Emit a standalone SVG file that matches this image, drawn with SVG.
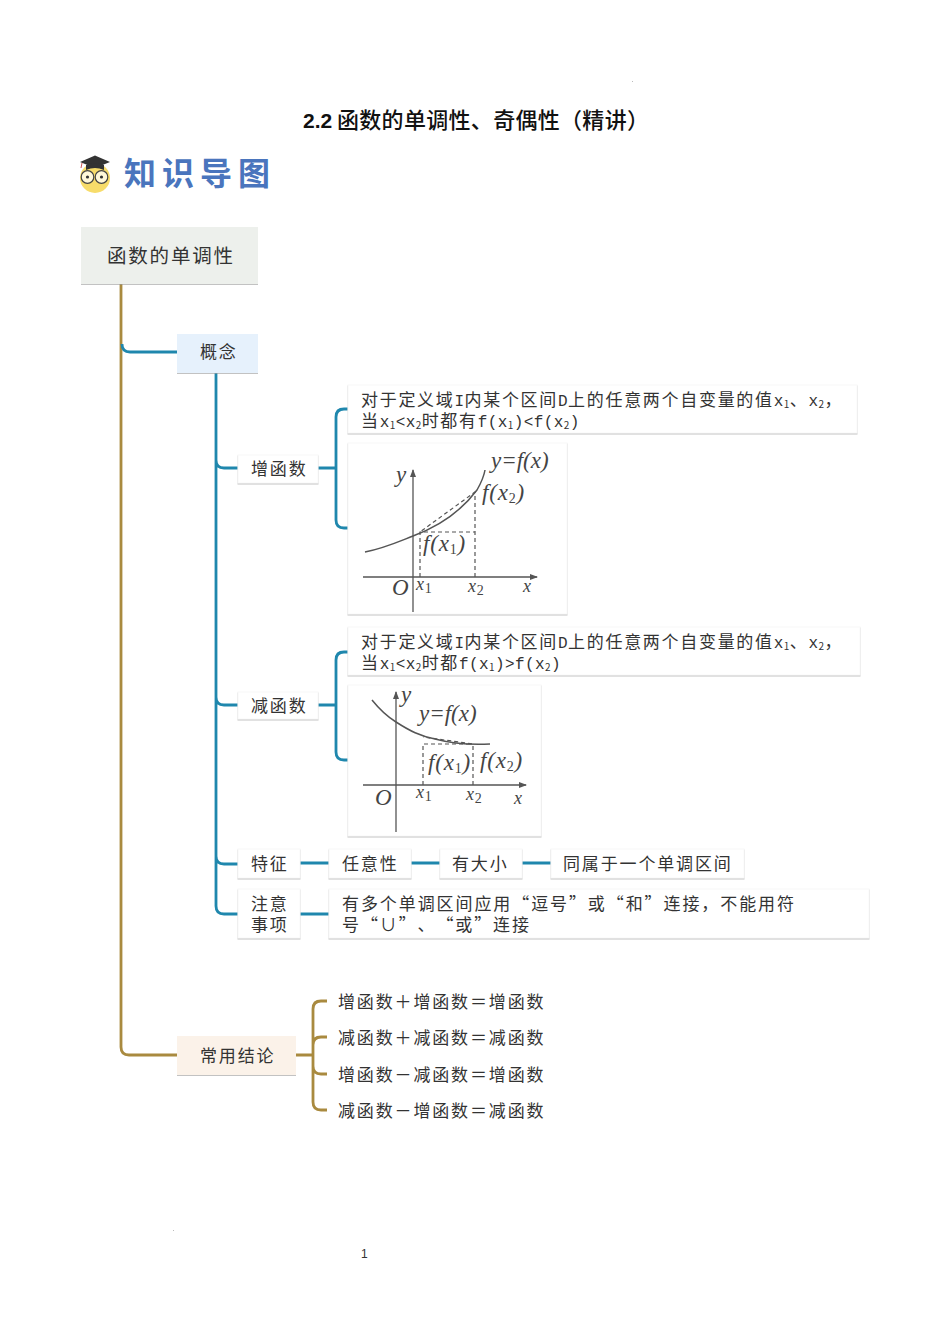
<svg xmlns="http://www.w3.org/2000/svg" width="950" height="1344" viewBox="0 0 950 1344" lang="zh-CN">
<style>
text{font-family:"Noto Sans CJK SC","Liberation Sans",sans-serif;fill:#333;text-spacing-trim:space-all}
.t{font-size:17px;letter-spacing:1.85px}
.d{font-size:17px;letter-spacing:1.7px}
.m{font-family:"Liberation Mono","Noto Sans CJK SC",monospace;font-size:16px;letter-spacing:0.4px}
.s{font-size:10px;letter-spacing:0.4px}
.w{fill:#fff;stroke:#f8f8f8;stroke-width:1;filter:url(#sh)}
.br{fill:none;stroke:#a98a3f;stroke-width:2.8}
.bl{fill:none;stroke:#1f87ad;stroke-width:2.8}
.g{font-family:"Liberation Serif",serif;font-style:italic;font-size:23px;letter-spacing:0.8px;fill:#444}
.e{letter-spacing:0}
.gs{font-size:14px;font-style:normal}
.gx{font-size:18px}
.ax{stroke:#555;stroke-width:1.3;fill:none}
.da{stroke:#555;stroke-width:1.2;stroke-dasharray:4 3;fill:none}
.cu{stroke:#555;stroke-width:1.5;fill:none}
</style>
<defs>
<filter id="sh" x="-5%" y="-10%" width="110%" height="125%"><feDropShadow dx="0" dy="1" stdDeviation="0.5" flood-color="#999" flood-opacity="0.6"/></filter>
<marker id="ah" markerWidth="8" markerHeight="6" refX="7" refY="3" orient="auto" markerUnits="userSpaceOnUse"><path d="M0 0L8 3L0 6Z" fill="#555"/></marker>
</defs>
<rect width="950" height="1344" fill="#fff"/>
<rect x="632" y="81" width="1" height="1" fill="#bbb"/>
<rect x="173" y="1230" width="1" height="1" fill="#bbb"/>
<g id="title"><text x="303" y="128" style="font-family:'Liberation Sans',sans-serif;font-weight:700;font-size:21px;fill:#111">2.2</text><text x="337" y="128" font-size="22" font-weight="500" textLength="312" style="fill:#111">函数的单调性、奇偶性（精讲）</text></g>
<g id="logo">
<circle cx="95" cy="178" r="15" fill="#f7dc6a"/>
<path d="M80 162L95 155.5L110 162L95 168Z" fill="#333"/>
<path d="M86 165Q95 161 104 165L104 170Q95 166 86 170Z" fill="#333"/>
<circle cx="87.5" cy="177" r="6.3" fill="#fff8d8" stroke="#444" stroke-width="1.2"/>
<circle cx="101.5" cy="177" r="6.3" fill="#fff8d8" stroke="#444" stroke-width="1.2"/>
<circle cx="87.5" cy="177" r="1.6" fill="#333"/><circle cx="101.5" cy="177" r="1.6" fill="#333"/>
<path d="M82 163L81 168" stroke="#c55" stroke-width="1" fill="none"/>
<text x="124" y="185" font-size="32" font-weight="700" style="fill:#4a75bd;letter-spacing:6px">知识导图</text>
</g>
<g id="connectors">
<path class="br" d="M121 284V1047Q121 1055 129 1055H177"/>
<path class="bl" d="M122 344Q122 352 130 352H177"/>
<path class="bl" d="M216 373V906Q216 914 224 914H238M216 460Q216 468 224 468H238M216 697Q216 705 224 705H238M216 856Q216 864 224 864H238"/>
<path class="bl" d="M318 468H336M348 409H344Q336 409 336 417V520Q336 528 344 528H348"/>
<path class="bl" d="M318 705H336M348 652H344Q336 652 336 660V752Q336 760 344 760H348"/>
<path class="bl" d="M300 863H329M411 863H440M522 863H551M300 914H329"/>
<path class="br" d="M296 1055H313M327 1001H321Q313 1001 313 1009V1102Q313 1110 321 1110H327M313 1045Q313 1037 321 1037H327M313 1066Q313 1074 321 1074H327"/>
</g>
<g id="root"><rect x="81" y="227" width="177" height="57" fill="#edf0ec" filter="url(#sh)"/><text x="107" y="263" font-size="19.5" style="letter-spacing:1.8px">函数的单调性</text></g>
<g id="gainian"><rect x="177" y="334" width="81" height="39" fill="#e6f1fc" filter="url(#sh)"/><text class="t" x="200" y="358">概念</text></g>
<g id="zeng"><rect class="w" x="238" y="455" width="80" height="28"/><text class="t" x="251" y="475">增函数</text></g>
<g id="zeng-def"><rect class="w" x="348" y="385" width="509" height="48"/>
<text class="d" x="361" y="406">对于定义域<tspan class="m">I</tspan>内某个区间<tspan class="m">D</tspan>上的任意两个自变量的值<tspan class="m">x</tspan><tspan class="s" dy="2">1</tspan><tspan dy="-2">、</tspan><tspan class="m">x</tspan><tspan class="s" dy="2">2</tspan><tspan dy="-2">，</tspan></text>
<text class="d" x="361" y="427">当<tspan class="m">x</tspan><tspan class="s" dy="2">1</tspan><tspan class="m" dy="-2">&lt;x</tspan><tspan class="s" dy="2">2</tspan><tspan dy="-2">时都有</tspan><tspan class="m">f(x</tspan><tspan class="s" dy="2">1</tspan><tspan class="m" dy="-2">)&lt;f(x</tspan><tspan class="s" dy="2">2</tspan><tspan class="m" dy="-2">)</tspan></text></g>
<g id="zeng-graph"><rect class="w" x="348" y="443" width="219" height="171"/>
<path class="ax" d="M413 612V470" marker-end="url(#ah)"/><path class="ax" d="M363 577H537" marker-end="url(#ah)"/>
<path class="cu" d="M365 552C385 548 400 541 413 536C440 526 462 510 477 490C481 483 484 476 485 470"/>
<path class="da" d="M420 577V532H475M475 577V492L420 532"/>
<text class="g e" x="491" y="468">y=f(x)</text><text class="g" x="482" y="500">f(x<tspan class="gs" dy="3">2</tspan><tspan dy="-3">)</tspan></text>
<text class="g" x="423" y="551">f(x<tspan class="gs" dy="3">1</tspan><tspan dy="-3">)</tspan></text>
<text class="g" x="396" y="482">y</text><text class="g" x="392" y="595">O</text>
<text class="g gx" x="416" y="590">x<tspan class="gs" dy="3">1</tspan></text><text class="g gx" x="468" y="592">x<tspan class="gs" dy="3">2</tspan></text><text class="g gx" x="523" y="592">x</text></g>
<g id="jian"><rect class="w" x="238" y="692" width="80" height="27"/><text class="t" x="251" y="712">减函数</text></g>
<g id="jian-def"><rect class="w" x="348" y="627" width="512" height="48"/>
<text class="d" x="361" y="648">对于定义域<tspan class="m">I</tspan>内某个区间<tspan class="m">D</tspan>上的任意两个自变量的值<tspan class="m">x</tspan><tspan class="s" dy="2">1</tspan><tspan dy="-2">、</tspan><tspan class="m">x</tspan><tspan class="s" dy="2">2</tspan><tspan dy="-2">，</tspan></text>
<text class="d" x="361" y="669">当<tspan class="m">x</tspan><tspan class="s" dy="2">1</tspan><tspan class="m" dy="-2">&lt;x</tspan><tspan class="s" dy="2">2</tspan><tspan dy="-2">时都</tspan><tspan class="m">f(x</tspan><tspan class="s" dy="2">1</tspan><tspan class="m" dy="-2">)&gt;f(x</tspan><tspan class="s" dy="2">2</tspan><tspan class="m" dy="-2">)</tspan></text></g>
<g id="jian-graph"><rect class="w" x="348" y="685" width="193" height="151"/>
<path class="ax" d="M396 832V692" marker-end="url(#ah)"/><path class="ax" d="M363 785H526" marker-end="url(#ah)"/>
<path class="cu" d="M372 700C380 710 388 717 396 722C410 731 420 736 435 739C450 743 470 745 490 744"/>
<path class="da" d="M423 785V744H473M473 785V744L423 737"/>
<text class="g e" x="419" y="721">y=f(x)</text><text class="g" x="428" y="770">f(x<tspan class="gs" dy="3">1</tspan><tspan dy="-3">)</tspan></text>
<text class="g" x="480" y="768">f(x<tspan class="gs" dy="3">2</tspan><tspan dy="-3">)</tspan></text>
<text class="g" x="401" y="702">y</text><text class="g" x="375" y="805">O</text>
<text class="g gx" x="416" y="798">x<tspan class="gs" dy="3">1</tspan></text><text class="g gx" x="466" y="800">x<tspan class="gs" dy="3">2</tspan></text><text class="g gx" x="514" y="804">x</text></g>
<g id="tezheng"><rect class="w" x="238" y="849" width="62" height="29"/><text class="t" x="251" y="870">特征</text></g>
<g id="renyi"><rect class="w" x="329" y="849" width="82" height="29"/><text class="t" x="342" y="870">任意性</text></g>
<g id="daxiao"><rect class="w" x="440" y="849" width="82" height="29"/><text class="t" x="452" y="870">有大小</text></g>
<g id="tongshu"><rect class="w" x="551" y="849" width="193" height="29"/><text class="t" x="563" y="870">同属于一个单调区间</text></g>
<g id="zhuyi"><rect class="w" x="238" y="889" width="62" height="49"/><text class="t" x="251" y="910">注意</text><text class="t" x="251" y="931">事项</text></g>
<g id="zhuyi-text"><rect class="w" x="329" y="889" width="540" height="49"/><text class="t" x="342" y="910" textLength="452" style="letter-spacing:0">有多个单调区间应用“逗号”或“和”连接，不能用符</text><text class="t" x="342" y="931" textLength="187" style="letter-spacing:0">号“∪”、“或”连接</text></g>
<g id="changyong"><rect x="177" y="1036" width="119" height="39" fill="#fbf2e9" filter="url(#sh)"/><text class="t" x="200" y="1062">常用结论</text></g>
<g id="r1"><text class="t" x="338" y="1008">增函数＋增函数＝增函数</text></g>
<g id="r2"><text class="t" x="338" y="1044">减函数＋减函数＝减函数</text></g>
<g id="r3"><text class="t" x="338" y="1081">增函数－减函数＝增函数</text></g>
<g id="r4"><text class="t" x="338" y="1117">减函数－增函数＝减函数</text></g>
<g id="page"><text x="361" y="1258" font-size="12" style="font-family:'Liberation Sans',sans-serif">1</text></g>
</svg>
